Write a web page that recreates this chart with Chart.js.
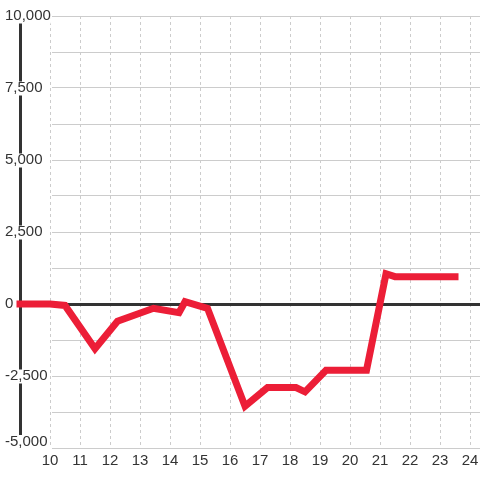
<!DOCTYPE html>
<html>
<head>
<meta charset="utf-8">
<script src="https://cdn.jsdelivr.net/npm/chart.js@4/dist/chart.umd.min.js"></script>
<style>
  html, body { margin: 0; padding: 0; background: #fff; }
  canvas { display: block; }
</style>
</head>
<body>
<canvas id="chart" width="480" height="480"></canvas>
<script>
// series
const xValues = [9, 10, 10.5, 11.5, 12.25, 13.45, 14.3, 14.5, 15.25, 16.5, 17.25, 18.2, 18.5, 19.2, 20.55, 21.2, 21.5, 23.5];
const yValues = [0, 0, -50, -1550, -600, -150, -300, 80, -150, -3550, -2900, -2900, -3050, -2300, -2300, 1050, 950, 950];

// ticks (9 is the axis line, no label)
const xTicks = [9, 10, 11, 12, 13, 14, 15, 16, 17, 18, 19, 20, 21, 22, 23, 24];
const yTicks = [-5000, -3750, -2500, -1250, 0, 1250, 2500, 3750, 5000, 6250, 7500, 8750, 10000];
const yTickLabels = [['-5,000', ''], '', '-2,500', '', '0', '', '2,500', '', '5,000', '', '7,500', '', '10,000'];

const dark = '#333333';
const gridGray = '#cccccc';
const red = '#ec1e37';

Chart.defaults.font.family = '"Liberation Sans", Arial, sans-serif';

const points = xValues.map((x, i) => ({ x: x, y: yValues[i] }));
const isAxis = (ctx) => ctx.tick && ctx.tick.value === 9;
const isZero = (ctx) => ctx.tick && ctx.tick.value === 0;

new Chart(document.getElementById('chart').getContext('2d'), {
    type: 'line',
    data: {
        datasets: [{
            data: points,
            borderColor: red,
            borderWidth: 7,
            borderCapStyle: 'square',
            borderJoinStyle: 'miter',
            pointRadius: 0,
            tension: 0,
            fill: false,
            clip: false
        }]
    },
    options: {
        responsive: false,
        animation: false,
        devicePixelRatio: 1,
        layout: { padding: { left: 0, top: 16, right: 0, bottom: 7 } },
        plugins: { legend: { display: false }, tooltip: { enabled: false } },
        scales: {
            x: {
                type: 'linear',
                min: 9,
                max: 24.333,
                afterBuildTicks: (scale) => {
                    scale.ticks = xTicks.map(v => ({ value: v }));
                },
                grid: {
                    drawTicks: false,
                    color: (ctx) => (isAxis(ctx) ? dark : gridGray),
                    lineWidth: (ctx) => (isAxis(ctx) ? 3 : 1)
                },
                border: {
                    display: false,
                    // the axis line stops above the bottom label
                    dash: (ctx) => (isAxis(ctx) ? [419, 100] : [3, 3])
                },
                ticks: {
                    padding: 0,
                    maxRotation: 0,
                    autoSkip: false,
                    color: dark,
                    font: { size: 15, lineHeight: 25 / 15 },
                    callback: (v) => (v === 9 ? '' : String(v))
                }
            },
            y: {
                min: -5000,
                max: 10000,
                afterBuildTicks: (scale) => {
                    scale.ticks = yTicks.map(v => ({ value: v }));
                },
                afterFit: (scale) => { scale.width = 20; },
                grid: {
                    drawTicks: false,
                    color: (ctx) => (isZero(ctx) ? dark : gridGray),
                    lineWidth: (ctx) => (isZero(ctx) ? 3 : 1)
                },
                border: {
                    display: false,
                    // grid lines start right of the labels, the zero line runs full width
                    dash: (ctx) => (ctx.tick && !isZero(ctx) ? [0, 32, 1000] : [])
                },
                ticks: {
                    mirror: true,
                    crossAlign: 'near',
                    padding: -15,
                    autoSkip: false,
                    color: dark,
                    font: { size: 15, lineHeight: '13px' },
                    showLabelBackdrop: (ctx) => ctx.index > 0 && yTickLabels[ctx.index] !== '',
                    backdropColor: '#ffffff',
                    backdropPadding: { top: 0, bottom: 1, left: 0, right: 0 },
                    callback: (v, i) => yTickLabels[i]
                }
            }
        }
    }
});
</script>
</body>
</html>
